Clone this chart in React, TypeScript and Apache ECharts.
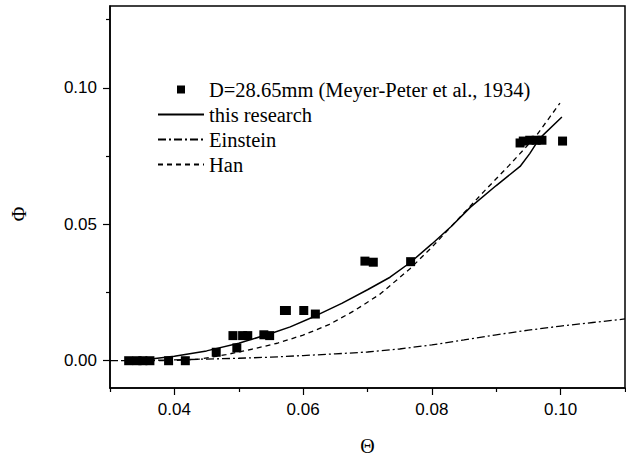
import React, { useEffect, useRef } from "react";
import * as echarts from "echarts";

// Observed data: D=28.65mm (Meyer-Peter et al., 1934)
const obsTheta = [0.0329, 0.0342, 0.0351, 0.0362, 0.0391, 0.0417, 0.0465, 0.0491, 0.0497, 0.0506, 0.0514, 0.0539, 0.0548, 0.0571, 0.0574, 0.0601, 0.0619, 0.0696, 0.0709, 0.0767, 0.0937, 0.0942, 0.0952, 0.0962, 0.0971, 0.1003];
const obsPhi = [0, 0, 0, 0, 0, 0, 0.0031, 0.0092, 0.0047, 0.0092, 0.0092, 0.0095, 0.0092, 0.0184, 0.0184, 0.0184, 0.0171, 0.0365, 0.0361, 0.0363, 0.0798, 0.0805, 0.0808, 0.0808, 0.0808, 0.0805];

// this research
const researchTheta = [0.033, 0.036, 0.04, 0.045, 0.05, 0.055, 0.058, 0.062, 0.066, 0.07, 0.0735, 0.0766, 0.08, 0.083, 0.086, 0.09, 0.0937, 0.0952, 0.0967, 0.1002];
const researchPhi = [0.0001, 0.0005, 0.0016, 0.0036, 0.0064, 0.01, 0.0124, 0.0165, 0.021, 0.026, 0.0306, 0.0359, 0.0428, 0.0492, 0.0563, 0.0642, 0.0712, 0.0759, 0.0814, 0.0893];

// Einstein
const einsteinTheta = [0.03, 0.035, 0.04, 0.045, 0.05, 0.055, 0.06, 0.065, 0.07, 0.075, 0.08, 0.085, 0.09, 0.095, 0.1, 0.105, 0.11];
const einsteinPhi = [0, 0.0001, 0.0003, 0.0006, 0.0009, 0.0013, 0.0019, 0.0025, 0.0032, 0.0043, 0.0058, 0.0076, 0.0095, 0.0112, 0.0127, 0.014, 0.0153];

// Han
const hanTheta = [0.032, 0.036, 0.04, 0.044, 0.048, 0.052, 0.056, 0.06, 0.064, 0.068, 0.072, 0.0766, 0.08, 0.084, 0.088, 0.092, 0.096, 0.0999];
const hanPhi = [0, 0, 0.0001, 0.0006, 0.0022, 0.0042, 0.0064, 0.0094, 0.0132, 0.0184, 0.0245, 0.0337, 0.0416, 0.0517, 0.0618, 0.0716, 0.0818, 0.0944];

// Axis ticks
const xMajorTicks = [0.04, 0.06, 0.08, 0.1];
const xMinorTicks = [0.03, 0.05, 0.07, 0.09, 0.11];
const yMajorTicks = [0, 0.05, 0.1];
const yMinorTicks = [0.025, 0.075, 0.125];

const seriesNames = ["D=28.65mm (Meyer-Peter et al., 1934)", "this research", "Einstein", "Han"];

const pairs = (xs: number[], ys: number[]) => xs.map((x, i) => [x, ys[i]]);

export default function App() {
  const ref = useRef<HTMLDivElement>(null);
  useEffect(() => {
    if (!ref.current) return;
    const chart = echarts.init(ref.current, undefined, { renderer: "svg" });
    const tickLabel = {
      color: "#000",
      fontFamily: "Liberation Sans, Arial, sans-serif",
      fontSize: 17,
    };
    const black = "#000";
    const hiddenSymbol = { color: "transparent", borderWidth: 0, opacity: 0 };
    chart.setOption({
      animation: false,
      grid: {
        left: 110,
        right: 1,
        top: 6,
        bottom: 72,
        show: true,
        borderColor: black,
        borderWidth: 1.5,
        outerBoundsMode: "none",
      },
      legend: {
        orient: "vertical",
        left: 157,
        top: 79,
        padding: 0,
        itemWidth: 46,
        itemHeight: 8,
        itemGap: 4,
        symbolKeepAspect: true,
        textStyle: { color: black, fontFamily: "Liberation Serif, Times New Roman, serif", fontSize: 20.5 },
        data: [
          { name: seriesNames[0], icon: "path://M0,0L10,0L10,10L0,10Z", itemStyle: { color: black, opacity: 1 } },
          { name: seriesNames[1], itemStyle: hiddenSymbol },
          { name: seriesNames[2], itemStyle: hiddenSymbol },
          { name: seriesNames[3], itemStyle: hiddenSymbol },
        ],
      },
      xAxis: [
        {
          type: "value",
          min: 0.03,
          max: 0.11,
          position: "bottom",
          axisLine: { show: true, onZero: false, lineStyle: { color: black, width: 1.5 } },
          axisTick: { show: true, customValues: xMajorTicks, length: 7, lineStyle: { color: black, width: 1.2 } },
          axisLabel: { show: true, customValues: xMajorTicks, margin: 13, formatter: (v: number) => v.toFixed(2), ...tickLabel },
          splitLine: { show: false },
          name: "Θ",
          nameLocation: "middle",
          nameGap: 48,
          nameTextStyle: { color: black, fontFamily: "Liberation Serif, Times New Roman, serif", fontSize: 20 },
        },
        {
          type: "value",
          min: 0.03,
          max: 0.11,
          position: "bottom",
          axisLine: { show: false, onZero: false },
          axisTick: { show: true, customValues: xMinorTicks, length: 4, lineStyle: { color: black, width: 1.2 } },
          axisLabel: { show: false },
          splitLine: { show: false },
        },
      ],
      yAxis: [
        {
          type: "value",
          min: -0.01,
          max: 0.13,
          position: "left",
          axisLine: { show: true, onZero: false, lineStyle: { color: black, width: 1.5 } },
          axisTick: { show: true, customValues: yMajorTicks, length: 7, lineStyle: { color: black, width: 1.2 } },
          axisLabel: { show: true, customValues: yMajorTicks, margin: 13, formatter: (v: number) => v.toFixed(2), ...tickLabel },
          splitLine: { show: false },
          name: "Φ",
          nameLocation: "middle",
          nameGap: 81,
          nameRotate: 90,
          nameTextStyle: { color: black, fontFamily: "Liberation Serif, Times New Roman, serif", fontSize: 20, padding: [0, 34, 0, 0] },
        },
        {
          type: "value",
          min: -0.01,
          max: 0.13,
          position: "left",
          axisLine: { show: false, onZero: false },
          axisTick: { show: true, customValues: yMinorTicks, length: 4, lineStyle: { color: black, width: 1.2 } },
          axisLabel: { show: false },
          splitLine: { show: false },
        },
      ],
      series: [
        {
          type: "scatter",
          name: seriesNames[0],
          data: pairs(obsTheta, obsPhi),
          symbol: "rect",
          symbolSize: 9,
          itemStyle: { color: black, opacity: 1 },
          z: 5,
        },
        {
          type: "line",
          name: seriesNames[1],
          data: pairs(researchTheta, researchPhi),
          symbol: "none",
          itemStyle: { color: black },
          lineStyle: { color: black, width: 1.5, type: "solid" },
        },
        {
          type: "line",
          name: seriesNames[2],
          data: pairs(einsteinTheta, einsteinPhi),
          symbol: "none",
          itemStyle: { color: black },
          lineStyle: { color: black, width: 1.3, type: [8, 3, 2, 3] },
        },
        {
          type: "line",
          name: seriesNames[3],
          data: pairs(hanTheta, hanPhi),
          symbol: "none",
          itemStyle: { color: black },
          lineStyle: { color: black, width: 1.3, type: [5, 4] },
        },
      ],
    });
    return () => chart.dispose();
  }, []);
  return (
    <div
      ref={ref}
      style={{ position: "fixed", left: 0, top: 0, width: 626, height: 460, background: "#fff" }}
    />
  );
}
